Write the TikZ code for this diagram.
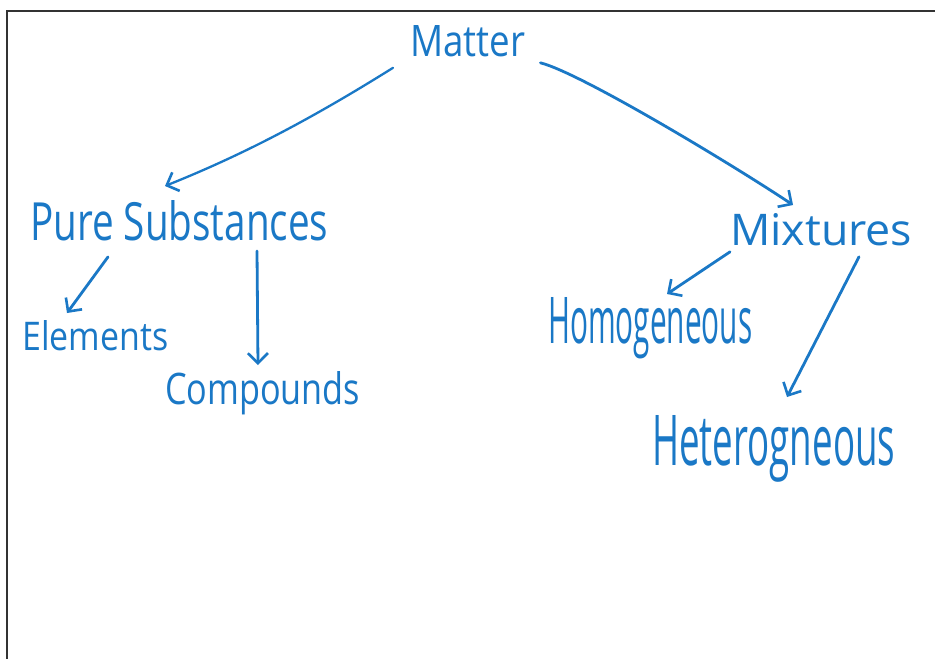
\documentclass[tikz,border=0pt]{standalone}
\usepackage{fontspec}
\setmainfont{Open Sans}
\usetikzlibrary{arrows.meta}
\definecolor{pen}{HTML}{1A78C6}
\tikzset{
  lbl/.style={inner sep=0pt, text=pen, anchor=north west},
  arr/.style={draw=pen, line width=2.8pt, line cap=round, line join=round,
    -{Straight Barb[length=10pt,width=20pt,line width=2.6pt]}},
  frameline/.style={draw=black!80, line width=2pt}
}
\newcommand{\fitbox}[3]{\resizebox{#1pt}{#2pt}{#3}}
\begin{document}
\begin{tikzpicture}[x=1pt,y=-1pt]
\useasboundingbox (0,0) rectangle (935,659);
\fill[white] (0,0) rectangle (935,659);
\coordinate (fl) at (7,659);
\coordinate (ftl) at (7,11);
\coordinate (ftr) at (935,11);
\draw[frameline] (fl) -- (ftl) -- (ftr);

\node[lbl] (matter) at (410,25) {\fitbox{115}{31}{Matter}};
\node[lbl] (pure) at (30,200) {\fitbox{298}{40}{Pure Substances}};
\node[lbl] (mix) at (730,213) {\fitbox{182}{32}{Mixtures}};
\node[lbl] (elem) at (22,320) {\fitbox{146}{30}{Elements}};
\node[lbl] (comp) at (165,371) {\fitbox{195}{33}{Compounds}};
\node[lbl] (homo) at (548,297) {\fitbox{204}{46}{Homogeneous}};
\node[lbl] (hetero) at (652,415) {\fitbox{243}{50}{Heterogneous}};

\draw[arr, line width=2.3pt] ([xshift=-17pt,yshift=-11pt]matter.south west) .. controls +(-80,50) and +(80,-32) .. ([xshift=135pt,yshift=14pt]pure.north west);
\draw[arr] ([xshift=15pt,yshift=-6pt]matter.south east) .. controls +(40,10) and +(-60,-40) .. ([xshift=63pt,yshift=8pt]mix.north west);
\draw[arr] ([xshift=78pt,yshift=-16pt]pure.south west) -- ([xshift=45pt,yshift=7pt]elem.north west);
\draw[arr] ([xshift=227pt,yshift=-10pt]pure.south west) -- ([xshift=93pt,yshift=6pt]comp.north west);
\draw[arr] ([xshift=0pt,yshift=-6pt]mix.south west) -- ([xshift=119pt,yshift=3pt]homo.north west);
\draw[arr] ([xshift=129pt,yshift=-11pt]mix.south west) -- ([xshift=135pt,yshift=18pt]hetero.north west);
\end{tikzpicture}
\end{document}
